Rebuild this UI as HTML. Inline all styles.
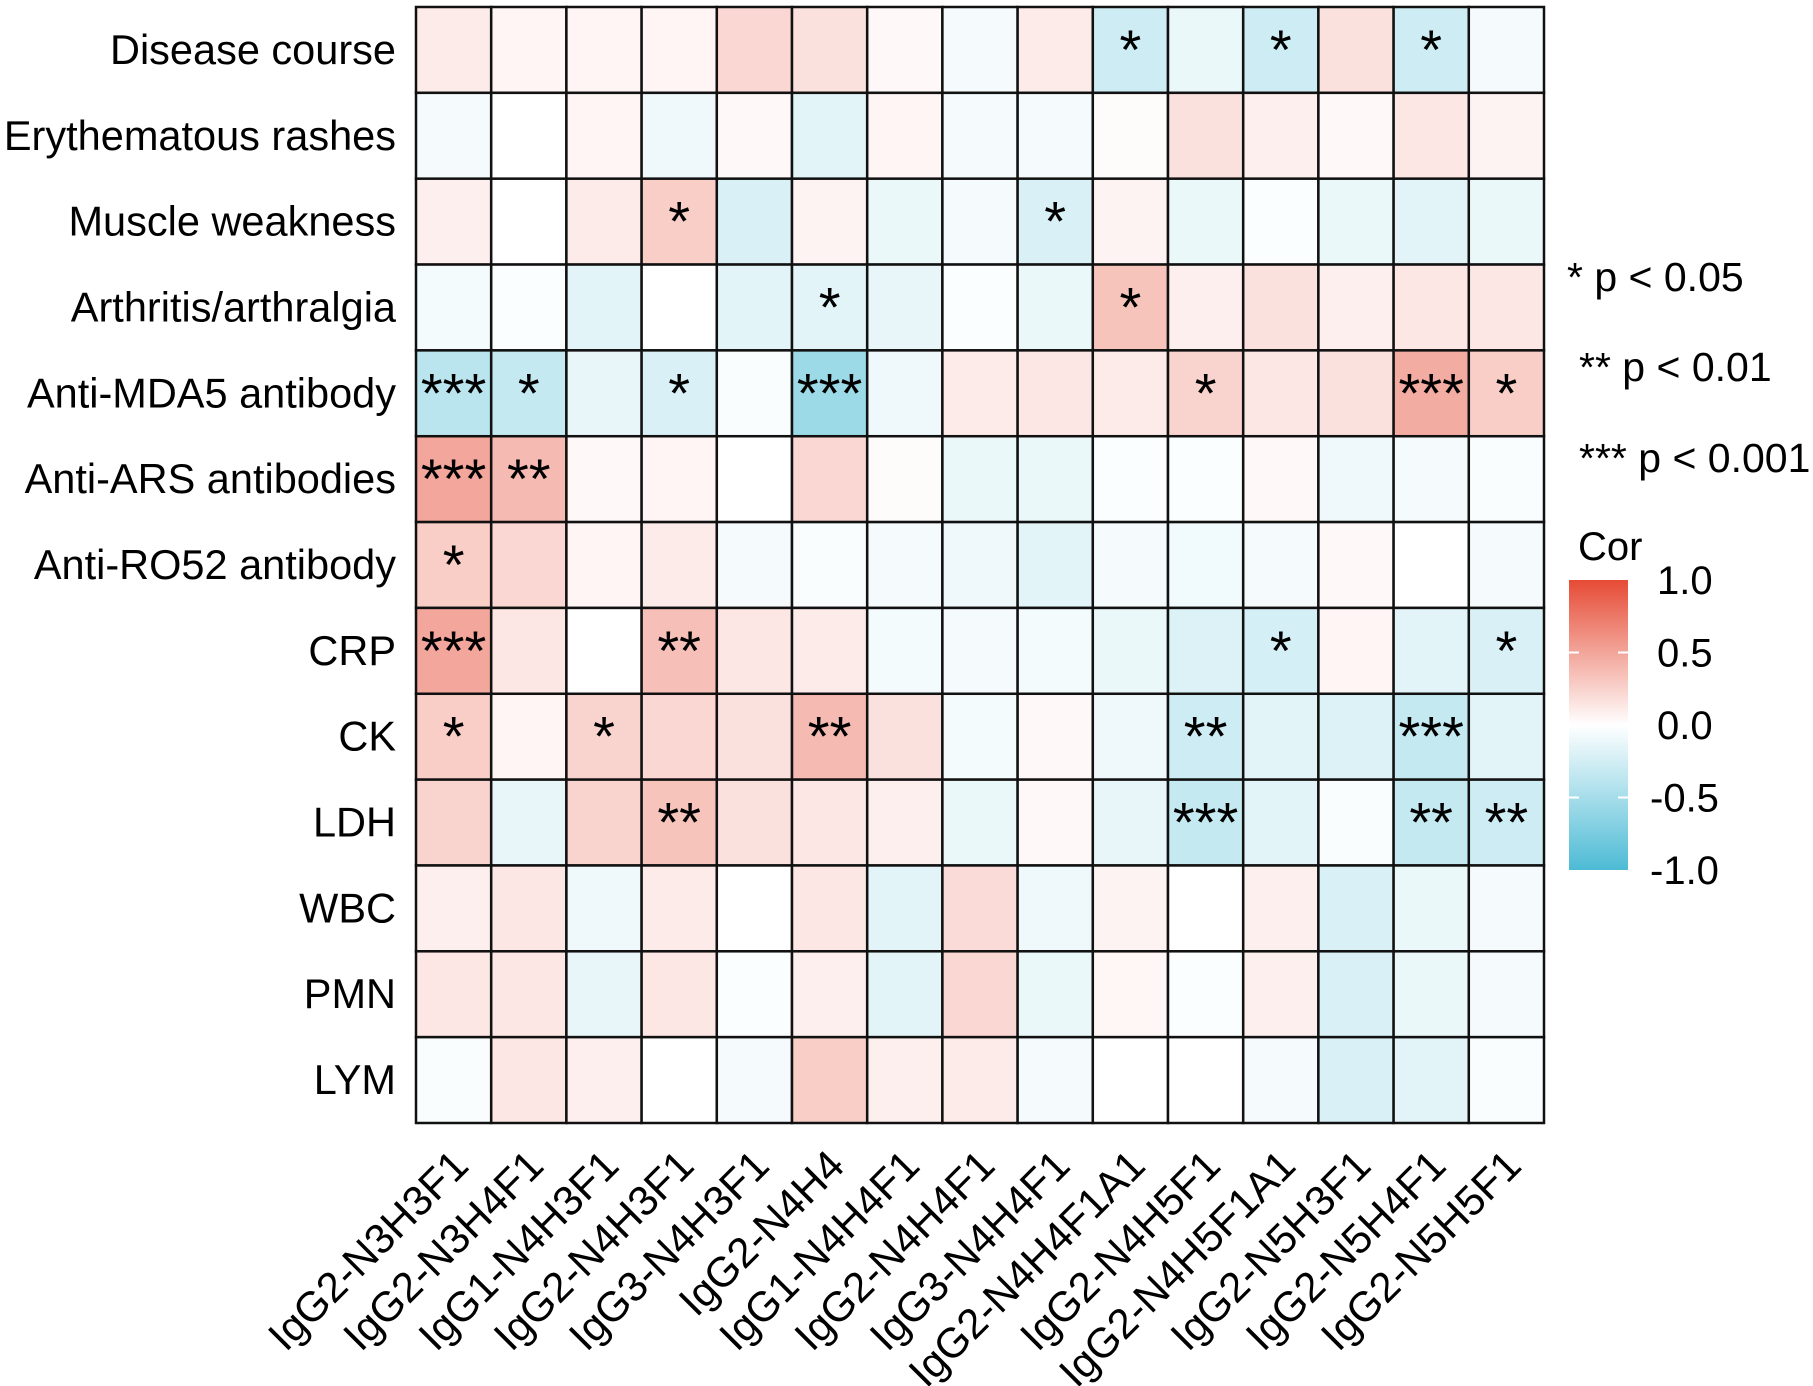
<!DOCTYPE html>
<html><head><meta charset="utf-8"><style>
html,body{margin:0;padding:0;background:#fff}
svg{display:block}
text{font-family:"Liberation Sans",Arial,sans-serif;fill:#000}
</style></head><body>
<svg id="chart" width="1813" height="1386" viewBox="0 0 1813 1386" xmlns="http://www.w3.org/2000/svg">
<defs>
<linearGradient id="cg" x1="0" y1="0" x2="0" y2="1">
<stop offset="0" stop-color="#E64B35"/><stop offset="0.5" stop-color="#ffffff"/><stop offset="1" stop-color="#4DBBD5"/>
</linearGradient>
</defs>
<g id="cells"></g>
<g id="stars"></g>
<g id="rowlabels"></g>
<g id="collabels"></g>
<g>
<text x="1567" y="291" font-size="41">* p &lt; 0.05</text>
<text x="1579" y="381" font-size="41">** p &lt; 0.01</text>
<text x="1579" y="472" font-size="41">*** p &lt; 0.001</text>
</g>
<g>
<text x="1578" y="560" font-size="40">Cor</text>
<rect x="1569" y="580" width="59" height="290" fill="url(#cg)"/>
<g id="cticks"></g>
</g>
</svg>
<script>
const rows = ["Disease course","Erythematous rashes","Muscle weakness","Arthritis/arthralgia","Anti-MDA5 antibody","Anti-ARS antibodies","Anti-RO52 antibody","CRP","CK","LDH","WBC","PMN","LYM"];
const cols = ["IgG2-N3H3F1","IgG2-N3H4F1","IgG1-N4H3F1","IgG2-N4H3F1","IgG3-N4H3F1","IgG2-N4H4","IgG1-N4H4F1","IgG2-N4H4F1","IgG3-N4H4F1","IgG2-N4H4F1A1","IgG2-N4H5F1","IgG2-N4H5F1A1","IgG2-N5H3F1","IgG2-N5H4F1","IgG2-N5H5F1"];
const values = [
[.1,.05,.05,.05,.2,.15,.03,-.05,.1,-.25,-.1,-.25,.15,-.25,-.05],
[-.05,0,.05,-.08,.03,-.15,.05,-.05,-.05,.02,.15,.08,.03,.12,.06],
[.08,0,.1,.25,-.2,.06,-.1,-.05,-.2,.06,-.1,-.02,-.1,-.15,-.1],
[-.06,-.02,-.15,0,-.15,-.15,-.12,-.02,-.1,.3,.08,.15,.08,.12,.12],
[-.35,-.3,-.12,-.2,-.03,-.5,-.08,.1,.12,.1,.22,.12,.15,.42,.25],
[.45,.35,.03,.05,0,.2,.02,-.1,-.1,-.02,-.02,.03,-.08,-.05,-.03],
[.25,.2,.05,.1,-.05,-.03,-.05,-.08,-.15,-.05,-.07,-.05,.03,0,-.05],
[.45,.12,0,.32,.12,.1,-.06,-.05,-.06,-.1,-.18,-.22,.05,-.15,-.2],
[.25,.05,.22,.2,.15,.35,.15,-.06,.03,-.08,-.25,-.15,-.18,-.3,-.15],
[.22,-.12,.22,.3,.15,.12,.08,-.1,.03,-.12,-.3,-.15,-.03,-.3,-.25],
[.08,.12,-.08,.1,0,.12,-.15,.18,-.08,.06,0,.08,-.2,-.1,-.05],
[.12,.12,-.12,.12,-.02,.08,-.15,.2,-.1,.04,-.02,.08,-.2,-.1,-.05],
[-.03,.12,.08,0,-.05,.25,.08,.1,-.05,0,0,-.05,-.2,-.15,-.03]
];
const sig = [
["","","","","","","","","","*","","*","","*",""],
["","","","","","","","","","","","","","",""],
["","","","*","","","","","*","","","","","",""],
["","","","","","*","","","","*","","","","",""],
["***","*","","*","","***","","","","","*","","","***","*"],
["***","**","","","","","","","","","","","","",""],
["*","","","","","","","","","","","","","",""],
["***","","","**","","","","","","","","*","","","*"],
["*","","*","","","**","","","","","**","","","***",""],
["","","","**","","","","","","","***","","","**","**"],
["","","","","","","","","","","","","","",""],
["","","","","","","","","","","","","","",""],
["","","","","","","","","","","","","","",""]
];
const tickVals = [1.0,0.5,0.0,-0.5,-1.0];
const tickLabels = ["1.0","0.5","0.0","-0.5","-1.0"];

const X0=416,X1=1544,Y0=7,Y1=1123;
const cw=(X1-X0)/cols.length, ch=(Y1-Y0)/rows.length;
const xOf=i=>X0+i*cw, yOf=j=>Y0+j*ch;
function color(v){
  const hi=[230,75,53], lo=[77,187,213];
  const t=Math.min(1,Math.abs(v)*1.1); const c=v>=0?hi:lo;
  const m=c.map(k=>Math.round(255+(k-255)*t));
  return `rgb(${m[0]},${m[1]},${m[2]})`;
}
const NS="http://www.w3.org/2000/svg";
const cells=document.getElementById('cells'), stars=document.getElementById('stars');
values.forEach((r,j)=>r.forEach((v,i)=>{
  const el=document.createElementNS(NS,'rect');
  
  
  el.setAttribute('x',xOf(i));el.setAttribute('y',yOf(j));
  el.setAttribute('width',cw);el.setAttribute('height',ch);
  el.setAttribute('fill',color(v));el.setAttribute('stroke','#111');el.setAttribute('stroke-width','2.5');
  cells.appendChild(el);
  if(sig[j][i]){
    const t=document.createElementNS(NS,'text');
    
    
    t.setAttribute('x',xOf(i)+cw/2);t.setAttribute('y',yOf(j)+ch/2+19);
    t.setAttribute('text-anchor','middle');t.setAttribute('font-size','56');
    t.textContent=sig[j][i];stars.appendChild(t);
  }
}));
const rl=document.getElementById('rowlabels');
rows.forEach((r,j)=>{
  const t=document.createElementNS(NS,'text');
  
  
  t.setAttribute('x',396);t.setAttribute('y',yOf(j)+ch/2+14);
  t.setAttribute('text-anchor','end');t.setAttribute('font-size','41.5');
  t.textContent=r;rl.appendChild(t);
});
const cl=document.getElementById('collabels');
cols.forEach((c,i)=>{
  const t=document.createElementNS(NS,'text');
  
  
  const x=xOf(i)+cw/2+17, y=1168;
  t.setAttribute('x',x);t.setAttribute('y',y);
  t.setAttribute('text-anchor','end');t.setAttribute('font-size','42');
  t.setAttribute('transform',`rotate(-45 ${x} ${y})`);
  t.textContent=c;cl.appendChild(t);
});
const ct=document.getElementById('cticks');
const cy=v=>580+(1-v)/2*290;
tickVals.forEach((v,k)=>{
  const y=cy(v);
  if(Math.abs(v)<1){
    for(const x of [1569,1618]){
      const l=document.createElementNS(NS,'line');
      
      
      l.setAttribute('x1',x);l.setAttribute('x2',x+10);l.setAttribute('y1',y);l.setAttribute('y2',y);
      l.setAttribute('stroke','#fff');l.setAttribute('stroke-width','2');ct.appendChild(l);
    }
  }
  const t=document.createElementNS(NS,'text');
  
  
  t.setAttribute('x',v<0?1650:1657);t.setAttribute('y',y+14);t.setAttribute('font-size','40');
  t.textContent=tickLabels[k];ct.appendChild(t);
});
</script>
</body></html>
